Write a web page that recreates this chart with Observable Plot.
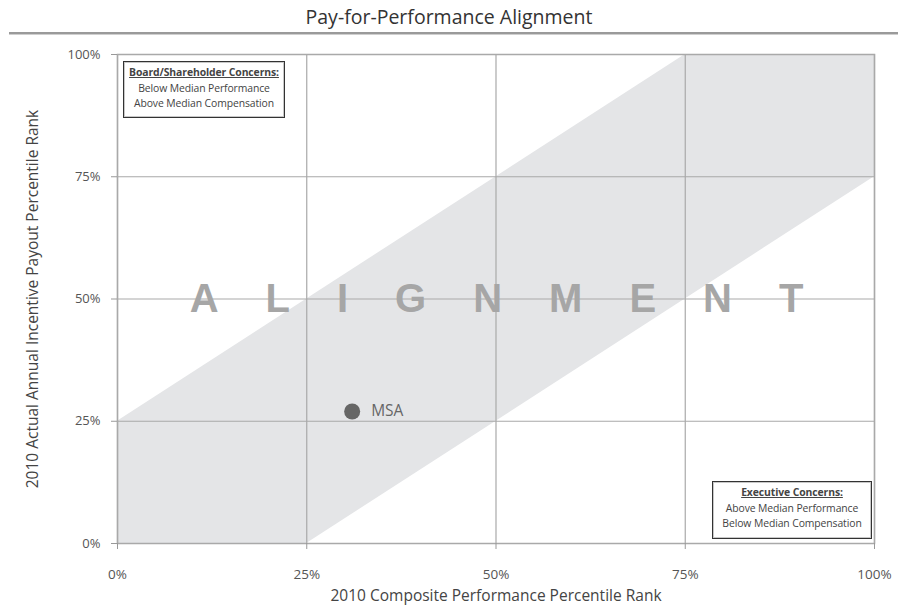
<!DOCTYPE html>
<html>
<head>
<meta charset="utf-8">
<script src="https://cdn.jsdelivr.net/npm/d3@7"></script>
<script src="https://cdn.jsdelivr.net/npm/@observablehq/plot@0.6"></script>
<style>
  body { margin: 0; background: #fff; font-family: "Open Sans", Lato, sans-serif; }
  #wrap { position: relative; width: 898px; height: 614px; overflow: hidden; }
  #title { height: 32px; line-height: 34px; text-align: center; font-size: 19.5px; color: #333; }
  #rule { margin-left: 9px; height: 0; border-top: 2px solid #9a9a9a; border-bottom: 1px solid #cfcfcf; }
  .box { position: absolute; border: 1px solid #333; box-shadow: inset 0 0 0 1px #c8c8c8; background: #fff;
         font-size: 10.4px; line-height: 15.5px; text-align: center; color: #444; box-sizing: border-box; padding-top: 3px;
         white-space: nowrap; letter-spacing: -0.1px; }
  .box b { text-decoration: underline; font-weight: bold; }
</style>
</head>
<body>
<div id="wrap">
  <div id="title"></div>
  <div id="rule"></div>
  <div id="chart"></div>
</div>
<script>
// ---- data ----
const titleText = "Pay-for-Performance Alignment";
const xLabel = "2010 Composite Performance Percentile Rank";
const yLabel = "2010 Actual Annual Incentive Payout Percentile Rank";
const tickValues = [0, 25, 50, 75, 100];
// alignment band: payout within +/- 25 points of performance
const bandX = [0, 25, 75, 100];
const bandLow = [0, 0, 50, 75];
const bandHigh = [25, 50, 100, 100];
const companyNames = ["MSA"];
const companyPerf = [31];
const companyPayout = [27];
const bandWord = "ALIGNMENT";
const boardBox = ["Board/Shareholder Concerns:", "Below Median Performance", "Above Median Compensation"];
const execBox = ["Executive Concerns:", "Above Median Performance", "Below Median Compensation"];

const band = bandX.map((x, i) => ({x, lo: bandLow[i], hi: bandHigh[i]}));
const companies = companyNames.map((name, i) => ({name, x: companyPerf[i], y: companyPayout[i]}));

document.getElementById("title").textContent = titleText;

const plot = Plot.plot({
  width: 898,
  height: 578,
  marginTop: 19,
  marginLeft: 117,
  marginRight: 24,
  marginBottom: 70,
  style: {fontFamily: "'Open Sans', Lato, sans-serif", fontSize: "12px", color: "#555", background: "#fff"},
  x: {domain: [0, 100]},
  y: {domain: [0, 100]},
  marks: [
    Plot.areaY(band, {x: "x", y1: "lo", y2: "hi", fill: "#e4e5e7", curve: "linear"}),
    Plot.gridX(tickValues, {stroke: "#a9a9a9", strokeOpacity: 1, strokeWidth: 1.2}),
    Plot.gridY(tickValues, {stroke: "#a9a9a9", strokeOpacity: 1, strokeWidth: 1.2}),
    Plot.frame({stroke: "#a9a9a9", strokeWidth: 1.5}),
    Plot.axisX(tickValues, {tickFormat: d => d + "%", tickSize: 6, tickPadding: 20, stroke: "#999", fill: "#555", fontSize: 13.5, label: null}),
    Plot.axisY(tickValues, {tickFormat: d => d + "%", tickSize: 6, tickPadding: 11, stroke: "#999", fill: "#555", fontSize: 13, label: null}),
    Plot.text([bandWord], {
      x: 50, y: 50, text: d => d, fill: "#a6a6a6", fontSize: 40, fontWeight: "bold",
      fontFamily: "'Liberation Sans', Arial, sans-serif",
      render(index, scales, values, dims, ctx, next) {
        const g = next(index, scales, values, dims, ctx);
        g.setAttribute("letter-spacing", "47px");
        g.querySelectorAll("text").forEach(t => t.setAttribute("dx", "24"));
        return g;
      }
    }),
    Plot.dot(companies, {x: "x", y: "y", r: 8, fill: "#666", stroke: "none"}),
    Plot.text(companies, {x: "x", y: "y", text: "name", dx: 19, textAnchor: "start", fill: "#666", fontSize: 15.5}),
    Plot.text([xLabel], {frameAnchor: "bottom", text: d => d, dy: 57, fill: "#444", fontSize: 15.5}),
    Plot.text([yLabel], {frameAnchor: "left", textAnchor: "middle", text: d => d, dx: -84, rotate: -90, fill: "#444", fontSize: 15.5})
  ]
});
document.getElementById("chart").appendChild(plot);

function addBox(lines, left, top, width, height) {
  const div = document.createElement("div");
  div.className = "box";
  Object.assign(div.style, {left: left + "px", top: top + "px", width: width + "px", height: height + "px"});
  div.innerHTML = `<b>${lines[0]}</b><br>${lines[1]}<br>${lines[2]}`;
  document.getElementById("wrap").appendChild(div);
}
addBox(boardBox, 123, 61, 162, 57);
addBox(execBox, 712, 481, 160, 58);
</script>
</body>
</html>
